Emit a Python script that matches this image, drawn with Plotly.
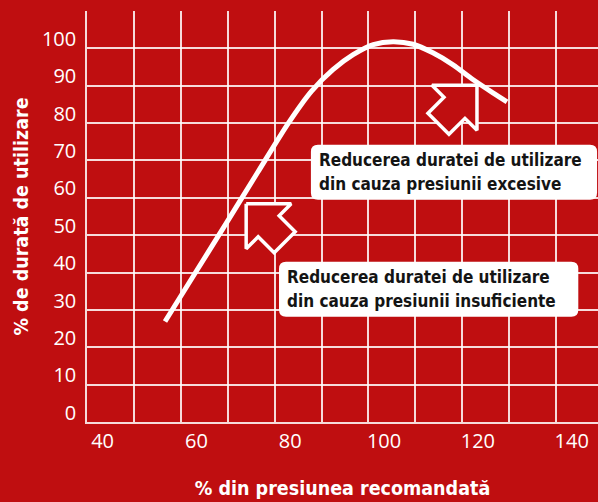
import plotly.graph_objects as go

# Tyre life vs. inflation pressure (both as % of nominal)
pressure_pct = [53.3, 60, 66.5, 73, 79.6, 84.5, 89.1, 93.4, 97.7, 101.9, 106.2, 110.4, 114.7, 119, 123.2, 126.2]
life_pct = [24.4, 37.9, 51.0, 64.2, 77.5, 86.0, 91.8, 95.8, 98.5, 99.3, 98.6, 96.3, 93.1, 89.1, 85.6, 83.2]

x_ticks = [40, 60, 80, 100, 120, 140]
y_ticks = [0, 10, 20, 30, 40, 50, 60, 70, 80, 90, 100]

note_high = ["Reducerea duratei de utilizare", "din cauza presiunii excesive"]
note_low = ["Reducerea duratei de utilizare", "din cauza presiunii insuficiente"]

x_title = "% din presiunea recomandată"
y_title = "% de durată de utilizare"

RED = "#BF0E10"
GRID = "rgba(255,255,255,0.85)"

W, H = 598, 502
M_L, M_R, M_T, M_B = 87, 0, 11, 80
X_RANGE = [36.67, 145.6]
Y_RANGE = [-2.5, 107.5]

# pixel -> data scale factors
sx = (W - M_L - M_R) / (X_RANGE[1] - X_RANGE[0])
sy = (H - M_T - M_B) / (Y_RANGE[1] - Y_RANGE[0])

fig = go.Figure()

# hollow block arrows (outline drawn in pixels around the tip, mirrored as needed)
arrow_shape = [(0, 0), (45, 0), (33, 12), (49, 28), (28, 49), (12, 33), (0, 45), (0, 0)]


def arrow(tip_x, tip_y, mirror):
    s = -1 if mirror else 1
    xs = [tip_x + s * dx / sx for dx, dy in arrow_shape]
    ys = [tip_y - dy / sy for dx, dy in arrow_shape]
    fig.add_trace(go.Scatter(
        x=xs, y=ys, mode="lines", fill="toself", fillcolor=RED,
        line=dict(color="white", width=3.5), hoverinfo="skip", showlegend=False,
    ))


arrow(70.6, 55.9, False)
arrow(119.8, 87.6, True)

fig.add_trace(go.Scatter(
    x=pressure_pct, y=life_pct, mode="lines",
    line=dict(color="white", width=5, shape="spline", smoothing=0.8),
    hoverinfo="skip", showlegend=False,
))


def rounded_box(x0, x1, y0, y1, r=7):
    rx, ry = r / sx, r / sy
    path = (f"M {x0+rx},{y1} L {x1-rx},{y1} Q {x1},{y1} {x1},{y1-ry} "
            f"L {x1},{y0+ry} Q {x1},{y0} {x1-rx},{y0} L {x0+rx},{y0} "
            f"Q {x0},{y0} {x0},{y0+ry} L {x0},{y1-ry} Q {x0},{y1} {x0+rx},{y1} Z")
    fig.add_shape(type="path", path=path, xref="x", yref="y",
                  fillcolor="white", line=dict(width=0), layer="above")


def note(lines, x0, x1, y0, y1):
    rounded_box(x0, x1, y0, y1)
    yc = (y0 + y1) / 2
    step = 24 / sy
    for i, txt in enumerate(lines):
        fig.add_annotation(
            x=x0 + 6 / sx, y=yc + step * (0.5 - i), xref="x", yref="y",
            text=txt, showarrow=False, xanchor="left", yanchor="middle",
            font=dict(family="DejaVu Sans Condensed", size=17, color="#141414", weight="bold"),
        )


note(note_high, 84.4, 145.4, 57.0, 71.7)
note(note_low, 77.6, 141.4, 25.7, 40.4)

tick_font = dict(family="Open Sans", size=20, color="white")
title_font = dict(family="DejaVu Sans Condensed", size=19.5, color="white", weight="bold")

fig.update_layout(
    width=W, height=H,
    margin=dict(l=M_L, r=M_R, t=M_T, b=M_B, pad=0),
    paper_bgcolor=RED, plot_bgcolor=RED,
    xaxis=dict(
        range=X_RANGE, tickvals=x_ticks, ticktext=[str(v) for v in x_ticks],
        showgrid=False, zeroline=False, showline=True, linecolor=GRID, linewidth=1.5,
        ticks="", tickfont=tick_font, ticklabelstandoff=0,
        minor=dict(tick0=X_RANGE[0], dtick=10, showgrid=True, gridcolor=GRID, gridwidth=1.5, ticks=""),
        title=dict(text=x_title, font=title_font, standoff=29),
        automargin=False,
    ),
    yaxis=dict(
        range=Y_RANGE, tickvals=y_ticks, ticktext=[str(v) for v in y_ticks],
        showgrid=False, zeroline=False, showline=True, linecolor=GRID, linewidth=1.5,
        ticks="", tickfont=tick_font, ticklabelstandoff=5,
        minor=dict(tick0=Y_RANGE[0], dtick=10, showgrid=True, gridcolor=GRID, gridwidth=1.5, ticks=""),
        title=dict(text=y_title, font=title_font, standoff=8),
        automargin=False,
    ),
)

fig.write_html("out.html")
